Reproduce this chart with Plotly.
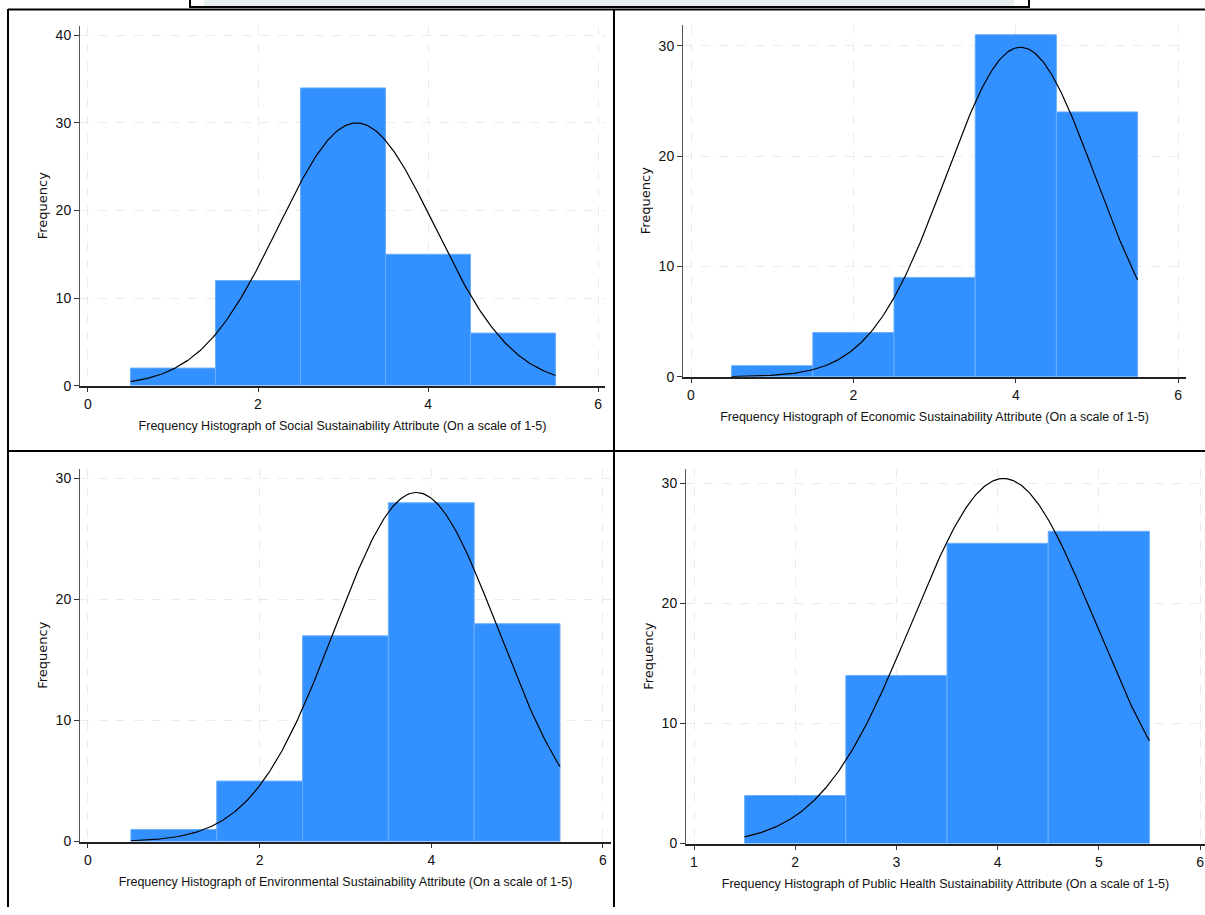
import numpy as np
import plotly.graph_objects as go

# ---- data ----
social_bins = [1, 2, 3, 4, 5]
social_freq = [2, 12, 34, 15, 6]
econ_bins = [1, 2, 3, 4, 5]
econ_freq = [1, 4, 9, 31, 24]
env_bins = [1, 2, 3, 4, 5]
env_freq = [1, 5, 17, 28, 18]
ph_bins = [2, 3, 4, 5]
ph_freq = [4, 14, 25, 26]

x_titles = [
    "Frequency Histograph of Social Sustainability Attribute (On a scale of 1-5)",
    "Frequency Histograph of Economic Sustainability Attribute (On a scale of 1-5)",
    "Frequency Histograph of Environmental Sustainability Attribute (On a scale of 1-5)",
    "Frequency Histograph of Public Health Sustainability Attribute (On a scale of 1-5)",
]
x_ticks = [[0, 2, 4, 6], [0, 2, 4, 6], [0, 2, 4, 6], [1, 2, 3, 4, 5, 6]]
y_ticks = [[0, 10, 20, 30, 40], [0, 10, 20, 30], [0, 10, 20, 30], [0, 10, 20, 30]]

W, H = 1205, 915
BAR = "#3390ff"
SANS = "Liberation Sans, Arial, sans-serif"
WIDE = "DejaVu Sans, Verdana, sans-serif"

# panel geometry in pixels: (x0, x1, ytop, ybottom, xrange, yrange)
panels = [
    (80, 605, 26, 389, [-0.094, 6.082], [0, 41.1]),
    (683, 1186, 25, 380, [-0.0985, 6.096], [0, 31.9]),
    (80, 611, 473, 849, [-0.093, 6.094], [0, 30.8]),
    (686, 1205, 473, 851, [0.921, 6.049], [0, 31.2]),
]
datasets = [(social_bins, social_freq), (econ_bins, econ_freq),
            (env_bins, env_freq), (ph_bins, ph_freq)]

fig = go.Figure()
layout = dict(width=W, height=H, margin=dict(l=0, r=0, t=0, b=0),
              paper_bgcolor="white", plot_bgcolor="white", showlegend=False)

for i, ((x0, x1, yt, yb, xr, yr), (bins, freq)) in enumerate(zip(panels, datasets)):
    n = i + 1
    xa = "x" if n == 1 else f"x{n}"
    ya = "y" if n == 1 else f"y{n}"
    bins_a = np.array(bins, float)
    freq_a = np.array(freq, float)
    fig.add_trace(go.Bar(x=bins, y=freq, width=1, xaxis=xa, yaxis=ya,
                         marker=dict(color=BAR, line=dict(color="#6aafff", width=1)),
                         hoverinfo="x+y"))
    N = freq_a.sum()
    mean = (bins_a * freq_a).sum() / N
    sd = np.sqrt(((bins_a - mean) ** 2 * freq_a).sum() / (N - 1))
    xs = np.linspace(bins_a.min() - 0.5, bins_a.max() + 0.5, 300)
    ys = N * 1.0 / (sd * np.sqrt(2 * np.pi)) * np.exp(-0.5 * ((xs - mean) / sd) ** 2)
    fig.add_trace(go.Scatter(x=xs, y=ys, mode="lines", xaxis=xa, yaxis=ya,
                             line=dict(color="black", width=1.2), hoverinfo="skip"))
    kx = "xaxis" if n == 1 else f"xaxis{n}"
    ky = "yaxis" if n == 1 else f"yaxis{n}"
    layout[kx] = dict(domain=[x0 / W, x1 / W], range=xr, anchor=ya,
                      tickvals=x_ticks[i], ticks="outside", ticklen=5, tickcolor="#333",
                      showline=True, linecolor="#222", linewidth=1.5,
                      showgrid=True, gridcolor="#ebebeb", griddash="dash", gridwidth=1,
                      zeroline=False, tickfont=dict(family=SANS, size=14, color="#111"),
                      title=dict(text=x_titles[i], font=dict(family=SANS, size=12.5, color="#111"),
                                 standoff=10))
    layout[ky] = dict(domain=[1 - yb / H, 1 - yt / H], range=yr, anchor=xa,
                      tickvals=y_ticks[i], ticks="outside", ticklen=5, tickcolor="#333",
                      showline=True, linecolor="#555", linewidth=1,
                      showgrid=True, gridcolor="#ebebeb", griddash="dash", gridwidth=1,
                      zeroline=False, tickfont=dict(family=SANS, size=14, color="#111"),
                      title=dict(text="Frequency", font=dict(family=WIDE, size=13, color="#111"),
                                 standoff=5))

shapes = []
def px_line(xa0, ya0, xa1, ya1, w=2, c="black"):
    shapes.append(dict(type="line", xref="paper", yref="paper",
                       x0=xa0 / W, x1=xa1 / W, y0=1 - ya0 / H, y1=1 - ya1 / H,
                       line=dict(color=c, width=w)))

# top partial box
shapes.append(dict(type="rect", xref="paper", yref="paper",
                   x0=204 / W, x1=1014 / W, y0=1 - 6 / H, y1=1.0,
                   fillcolor="#e8eff1", line=dict(width=0), layer="below"))
px_line(190, 0, 190, 8)
px_line(1029, 0, 1029, 8)
px_line(190, 7, 1029, 7)
# panel borders
px_line(8, 9.5, 1205, 9.5)
px_line(8, 9, 8, 915)
px_line(614, 9, 614, 915)
px_line(8, 455, 1205, 455)
layout["shapes"] = shapes

fig.update_layout(**layout)
fig.write_html("out.html")
